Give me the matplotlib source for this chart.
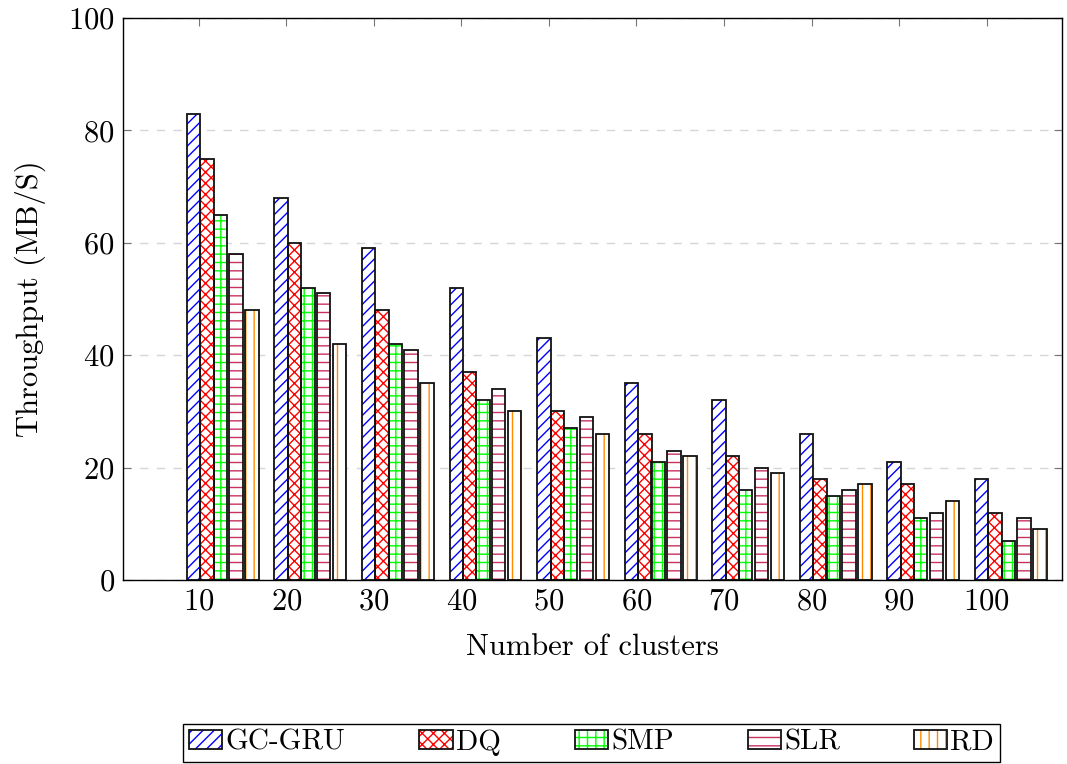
import numpy as np
import matplotlib
matplotlib.use("Agg")
import matplotlib.pyplot as plt
from matplotlib.legend_handler import HandlerTuple

plt.rcParams["font.family"] = ["cmr10", "DejaVu Sans"]
plt.rcParams["mathtext.fontset"] = "cm"
plt.rcParams["axes.formatter.use_mathtext"] = True
plt.rcParams["hatch.linewidth"] = 1.0

# throughput per number of clusters
clusters = [10, 20, 30, 40, 50, 60, 70, 80, 90, 100]
methods = ["GC-GRU", "DQ", "SMP", "SLR", "RD"]
gc_gru = [83, 68, 59, 52, 43, 35, 32, 26, 21, 18]
dq = [75, 60, 48, 37, 30, 26, 22, 18, 17, 12]
smp = [65, 52, 42, 32, 27, 21, 16, 15, 11, 7]
slr = [58, 51, 41, 34, 29, 23, 20, 16, 12, 11]
rd = [48, 42, 35, 30, 26, 22, 19, 17, 14, 9]
series = [gc_gru, dq, smp, slr, rd]

colors = ["#0000ff", "#ff0000", "#00ff00", "#c8325f", "#ff8c00"]
hatches = ["///", "xxx", "++", "--", "||"]
offsets = [-0.58, 0.96, 2.47, 4.27, 6.10]
width = 1.54

fig = plt.figure(figsize=(10.67, 7.64), dpi=100)
ax = fig.add_axes([0.1153, 0.2408, 0.88, 0.7356])

x = np.array(clusters, dtype=float)
handles = []
for vals, col, h, off in zip(series, colors, hatches, offsets):
    # hatched fill first, then a black outline on top
    hb = ax.bar(x + off, vals, width, color="white", edgecolor=col,
                hatch=h, linewidth=0, zorder=2)
    ob = ax.bar(x + off, vals, width, fill=False, edgecolor="#111111",
                linewidth=1.3, zorder=3)
    handles.append((hb[0], ob[0]))

ax.set_xlim(1.36, 108.6)
ax.set_ylim(0, 100)
ax.set_xticks(clusters)
ax.set_yticks([0, 20, 40, 60, 80, 100])
ax.yaxis.grid(True, linestyle=(0, (6, 6)), color="#d6d6d6", linewidth=1.0, zorder=0)
ax.set_axisbelow(True)
ax.tick_params(direction="in", top=True, right=True, length=6, width=0.8,
               color="#777777", labelsize=22, pad=6)
for s in ax.spines.values():
    s.set_linewidth(1.0)
    s.set_zorder(4)

ax.set_xlabel("Number of clusters", fontsize=22, labelpad=13)
ax.set_ylabel("Throughput (MB/S)", fontsize=22, labelpad=16)

leg = fig.legend(handles, methods, loc="lower left", ncol=5, mode="expand",
                 bbox_to_anchor=(0.1715, 0.003, 0.7657, 0.052),
                 handler_map={tuple: HandlerTuple(ndivide=1, pad=0)},
                 fontsize=21, handlelength=1.15, handleheight=0.65,
                 handletextpad=0.1, borderaxespad=0, borderpad=0.2,
                 fancybox=False, framealpha=1, edgecolor="black")
leg.get_frame().set_linewidth(1.0)

fig.savefig("out.png", dpi=100)
